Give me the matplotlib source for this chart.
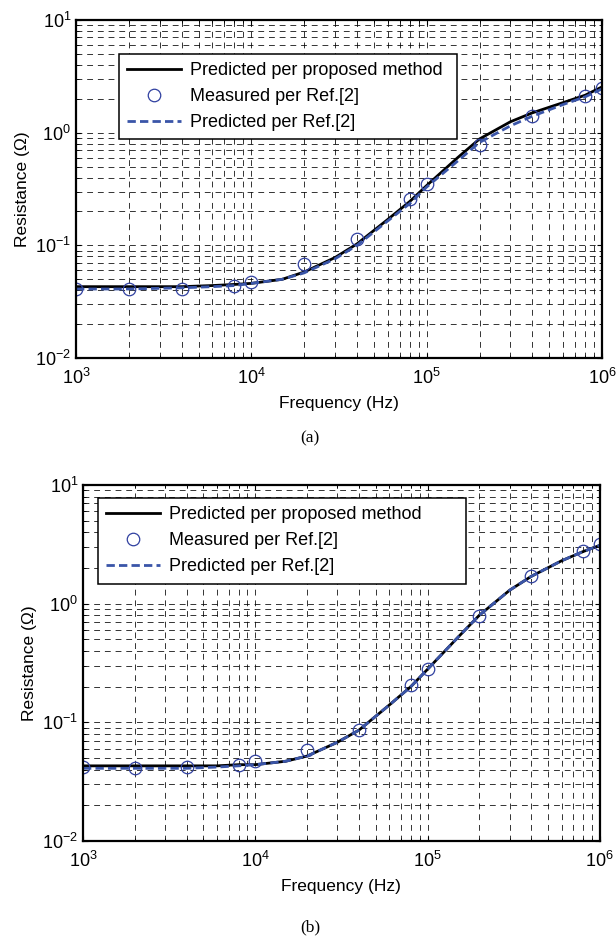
import matplotlib
matplotlib.use("Agg")
import matplotlib.pyplot as plt

plt.rcParams["font.family"] = ["Liberation Sans", "DejaVu Sans"]
plt.rcParams["mathtext.fontset"] = "custom"
plt.rcParams["mathtext.rm"] = "Liberation Sans"
plt.rcParams["mathtext.it"] = "Liberation Sans"
plt.rcParams["mathtext.default"] = "regular"
plt.rcParams["axes.unicode_minus"] = False

# measured frequencies (Hz)
meas_freq = [1e3, 2e3, 4e3, 8e3, 1e4, 2e4, 4e4, 8e4, 1e5, 2e5, 4e5, 8e5, 1e6]
# curve sample frequencies (Hz)
line_freq = [1e3, 2e3, 4e3, 6e3, 8e3, 1e4, 1.5e4, 2e4, 3e4, 4e4, 6e4, 8e4,
             1e5, 1.5e5, 2e5, 3e5, 4e5, 6e5, 8e5, 1e6]

# (a)
meas_a = [0.041, 0.041, 0.041, 0.044, 0.047, 0.068, 0.114, 0.256, 0.35, 0.78, 1.41, 2.12, 2.48]
prop_a = [0.043, 0.043, 0.043, 0.044, 0.045, 0.046, 0.050, 0.058, 0.078, 0.103, 0.17, 0.245,
          0.34, 0.60, 0.88, 1.25, 1.50, 1.85, 2.15, 2.55]
ref_a = [0.041, 0.041, 0.042, 0.043, 0.044, 0.046, 0.050, 0.057, 0.076, 0.100, 0.165, 0.235,
         0.33, 0.56, 0.82, 1.15, 1.40, 1.78, 2.08, 2.45]

# (b)
meas_b = [0.042, 0.0415, 0.042, 0.044, 0.047, 0.058, 0.087, 0.206, 0.28, 0.79, 1.71, 2.78, 3.18]
prop_b = [0.043, 0.043, 0.043, 0.043, 0.044, 0.044, 0.047, 0.052, 0.068, 0.086, 0.14, 0.20,
          0.28, 0.52, 0.80, 1.30, 1.70, 2.30, 2.75, 3.10]
ref_b = [0.041, 0.041, 0.041, 0.042, 0.043, 0.044, 0.047, 0.052, 0.068, 0.086, 0.14, 0.20,
         0.28, 0.52, 0.80, 1.30, 1.70, 2.30, 2.75, 3.10]

labels = ["Predicted per proposed method", "Measured per Ref.[2]", "Predicted per Ref.[2]"]
BLUE = "#3a55a8"
MARK = "#3040a0"


def draw(ax, meas, prop, ref, leg_box):
    ax.plot(line_freq, prop, color="black", lw=2.0, label=labels[0])
    ax.plot(meas_freq, meas, ls="none", marker="o", ms=9, mfc="none",
            mec=MARK, mew=0.9, label=labels[1])
    ax.plot(line_freq, ref, color=BLUE, lw=2.0, ls=(0, (3, 1.5)), label=labels[2])
    ax.set_xscale("log")
    ax.set_yscale("log")
    ax.set_xlim(1e3, 1e6)
    ax.set_ylim(1e-2, 1e1)
    ax.grid(True, which="both", color="black", alpha=0.8, lw=0.7, ls=(0, (6, 5)))
    ax.tick_params(which="both", direction="in", top=True, right=True, labelsize=13)
    ax.tick_params(axis="x", pad=7)
    for s in ax.spines.values():
        s.set_linewidth(1.6)
    ax.set_xlabel("Frequency (Hz)", fontsize=12.5, labelpad=6)
    ax.set_ylabel("Resistance (\u03a9)", fontsize=12.5, labelpad=4)
    leg = ax.legend(loc="upper left", bbox_to_anchor=leg_box, mode="expand",
                    borderaxespad=0, fontsize=13, frameon=True, fancybox=False,
                    edgecolor="black", framealpha=1, handlelength=3.0,
                    handletextpad=0.5, borderpad=0.45, labelspacing=0.5)
    leg.get_frame().set_linewidth(1.1)


fig = plt.figure(figsize=(6.16, 9.4), dpi=100)
ax1 = fig.add_axes([0.1234, 0.6191, 0.854, 0.3596])
ax2 = fig.add_axes([0.1347, 0.1053, 0.839, 0.3787])

draw(ax1, meas_a, prop_a, ref_a, (0.081, 0.899, 0.643, 0.0))
draw(ax2, meas_b, prop_b, ref_b, (0.029, 0.963, 0.712, 0.0))

fig.text(0.503, 1 - 438 / 940, "(a)", ha="center", va="center",
         fontsize=12.5, family="Liberation Serif")
fig.text(0.503, 1 - 927 / 940, "(b)", ha="center", va="center",
         fontsize=12.5, family="Liberation Serif")

fig.savefig("out.png", dpi=100)
